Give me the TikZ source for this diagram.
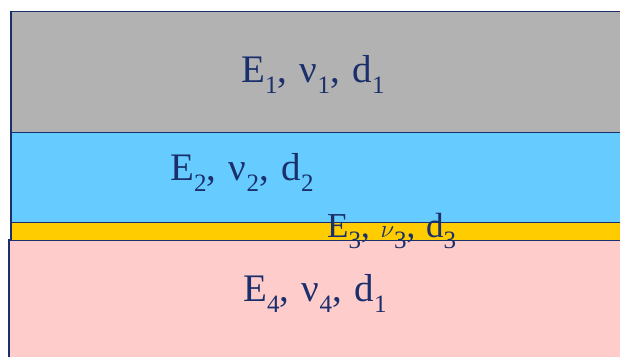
\documentclass[tikz,border=0pt]{standalone}
\usepackage{fontspec}
\setmainfont{Liberation Serif}
\definecolor{grayL}{HTML}{B2B2B2}
\definecolor{blueL}{HTML}{66CCFF}
\definecolor{yellowL}{HTML}{FFCC00}
\definecolor{pinkL}{HTML}{FFCCCC}
\definecolor{navy}{HTML}{1A2F6B}
\newcommand{\lsub}[1]{\raisebox{-11pt}{\fontsize{25}{25}\selectfont #1}}
\tikzset{
  layer/.style={draw=navy, line width=1.5pt, inner sep=0pt, outer sep=0pt, anchor=north west},
  lab/.style={text=navy, font=\fontsize{39}{44}\selectfont, inner sep=0pt, anchor=base west}
}
\begin{document}
\begin{tikzpicture}[x=1pt,y=-1pt]
\useasboundingbox (0,0) rectangle (620,356);
\node[layer, fill=pinkL, minimum width=625pt, minimum height=130pt] (l4) at (9,240) {};
\node[layer, fill=grayL, minimum width=625pt, minimum height=121pt] (l1) at (11,11.5) {};
\node[layer, fill=blueL, minimum width=625pt, minimum height=90pt] (l2) at (11,132.5) {};
\node[layer, fill=yellowL, minimum width=625pt, minimum height=18pt] (l3) at (11,222.5) {};
\node[lab] (t1) at (241,82) {E\lsub{1}, \hspace{3pt}ν\lsub{1}, \hspace{3pt}d\lsub{1}};
\node[lab] (t2) at (170,180) {E\lsub{2}, \hspace{3pt}ν\lsub{2}, \hspace{3pt}d\lsub{2}};
\node[lab, font=\fontsize{35}{40}\selectfont] (t3) at (327,237) {E\lsub{3}, \hspace{2pt}$\nu$\lsub{3}, \hspace{2pt}d\lsub{3}};
\node[lab] (t4) at (243,301) {E\lsub{4}, \hspace{3pt}ν\lsub{4}, \hspace{3pt}d\lsub{1}};
\end{tikzpicture}
\end{document}
